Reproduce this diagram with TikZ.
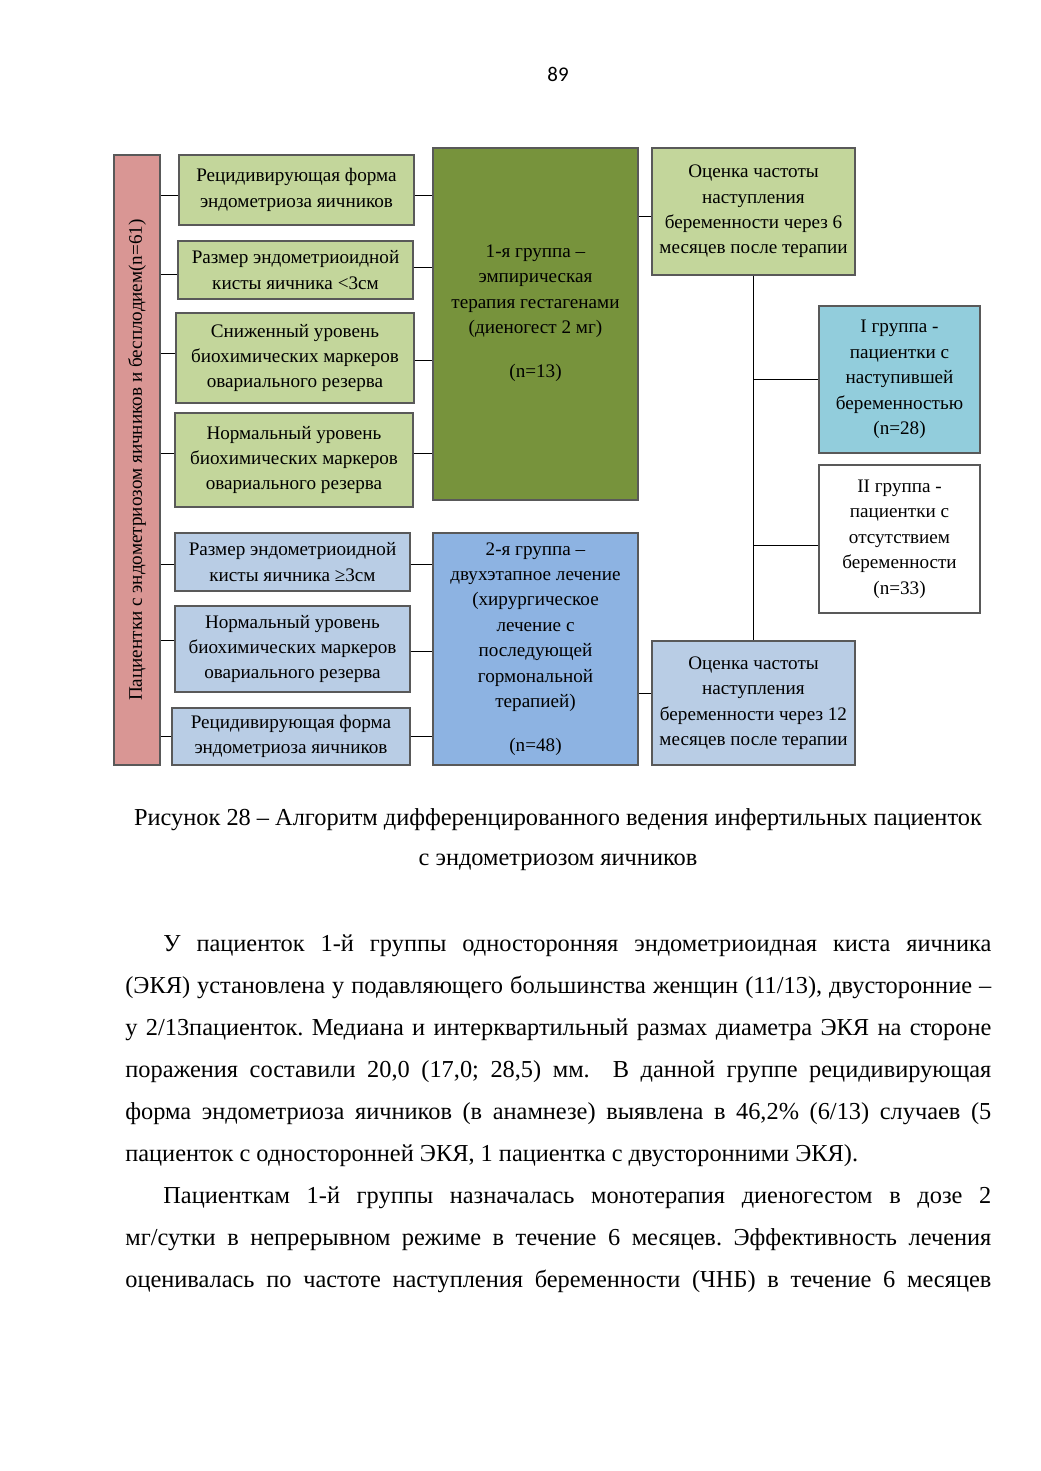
\documentclass[tikz,border=0pt]{standalone}
\usepackage{fontspec}
\setmainfont{Liberation Serif}
\newfontfamily\pagenumfont{Carlito}
\usetikzlibrary{calc}
\frenchspacing

\definecolor{pinkfill}{HTML}{D99694}
\definecolor{greenfill}{HTML}{C3D69B}
\definecolor{olivefill}{HTML}{77933C}
\definecolor{bluefill}{HTML}{B9CDE5}
\definecolor{midbluefill}{HTML}{8DB3E2}
\definecolor{cyanfill}{HTML}{92CDDC}

\tikzset{
  box/.style={draw=black!65, line width=0.7pt, align=center, inner sep=0pt,
    font=\fontsize{11}{14.6}\selectfont},
  sz/.style 2 args={minimum width=#1*0.20192mm, minimum height=#2*0.20192mm},
  link/.style={line width=0.6pt},
  bodytext/.style={font=\fontsize{14}{24.15}\selectfont}
}

\begin{document}
\begin{tikzpicture}[x=0.20192mm, y=-0.20192mm]
    \useasboundingbox (0,0) rectangle (1040,1471);

    \node[font=\pagenumfont\fontsize{12}{14}\selectfont] (pagenum) at (558,74) {89};

    \node[box, sz={610}{46}, fill=pinkfill, rotate=90] (pk) at (137,460)
        {Пациентки с эндометриозом яичников и бесплодием(n=61)};

    \node[box, sz={235}{70}, fill=greenfill] (g1) at (296.5,190) {Рецидивирующая форма\\эндометриоза яичников};
    \node[box, sz={235}{58}, fill=greenfill] (g2) at (295.5,270) {Размер эндометриоидной\\кисты яичника <3см};
    \node[box, sz={238}{90}, fill=greenfill] (g3) at (295,358) {Сниженный уровень\\биохимических маркеров\\овариального резерва};
    \node[box, sz={238}{94}, fill=greenfill] (g4) at (294,460) {Нормальный уровень\\биохимических маркеров\\овариального резерва};

    \node[box, sz={235}{58}, fill=bluefill] (b1) at (292.5,562) {Размер эндометриоидной\\кисты яичника ≥3см};
    \node[box, sz={235}{86}, fill=bluefill] (b2) at (292.5,649) {Нормальный уровень\\биохимических маркеров\\овариального резерва};
    \node[box, sz={238}{57}, fill=bluefill] (b3) at (291,736.5) {Рецидивирующая форма\\эндометриоза яичников};

    \node[box, sz={205}{352}, fill=olivefill] (dg) at (535.5,324)
        {1-я группа –\\эмпирическая\\терапия гестагенами\\(диеногест 2 мг)\\[10.7pt](n=13)\\\mbox{}};
    \node[box, sz={205}{232}, fill=midbluefill] (bb) at (535.5,649)
        {2-я группа –\\двухэтапное лечение\\(хирургическое\\лечение с\\последующей\\гормональной\\терапией)\\[10.7pt](n=48)};

    \node[box, sz={203}{127}, fill=greenfill] (rg) at (753.5,211.5)
        {Оценка частоты\\наступления\\беременности через 6\\месяцев после терапии};
    \node[box, sz={203}{124}, fill=bluefill] (rb) at (753.5,703)
        {Оценка частоты\\наступления\\беременности через 12\\месяцев после терапии};

    \node[box, sz={161}{147}, fill=cyanfill] (cy) at (899.5,379.5)
        {I группа -\\пациентки с\\наступившей\\беременностью\\(n=28)};
    \node[box, sz={161}{148}, fill=white] (wh) at (899.5,539)
        {II группа -\\пациентки с\\отсутствием\\беременности\\(n=33)};

    \draw[link] ([yshift=-1.2mm]g1.west) -- ([yshift=-1.2mm]g1.west -| pk.south);
    \draw[link] ([yshift=-1mm]g2.west) -- ([yshift=-1mm]g2.west -| pk.south);
    \draw[link] ([yshift=1mm]g3.west) -- ([yshift=1mm]g3.west -| pk.south);
    \draw[link] ([yshift=1.4mm]g4.west) -- ([yshift=1.4mm]g4.west -| pk.south);
    \draw[link] ([yshift=-0.6mm]b1.west) -- ([yshift=-0.6mm]b1.west -| pk.south);
    \draw[link] ([yshift=1.8mm]b2.west) -- ([yshift=1.8mm]b2.west -| pk.south);
    \draw[link] (b3.west) -- (b3.west -| pk.south);

    \draw[link] ([yshift=-1.2mm]g1.east) -- ([yshift=-1.2mm]g1.east -| dg.west);
    \draw[link] ([yshift=0.6mm]g2.east) -- ([yshift=0.6mm]g2.east -| dg.west);
    \draw[link] ([yshift=-0.6mm]g3.east) -- ([yshift=-0.6mm]g3.east -| dg.west);
    \draw[link] ([yshift=1.4mm]g4.east) -- ([yshift=1.4mm]g4.east -| dg.west);
    \draw[link] ([yshift=-0.6mm]b1.east) -- ([yshift=-0.6mm]b1.east -| bb.west);
    \draw[link] ([yshift=-0.6mm]b2.east) -- ([yshift=-0.6mm]b2.east -| bb.west);
    \draw[link] (b3.east) -- (b3.east -| bb.west);

    \draw[link] ([yshift=-1.1mm]rg.west) -- ([yshift=-1.1mm]rg.west -| dg.east);
    \draw[link] ([yshift=2mm]rb.west) -- ([yshift=2mm]rb.west -| bb.east);

    \draw[link] (rg.south) -- (rb.north);
    \draw[link] (cy.west) -- (cy.west -| rg.south);
    \draw[link] ([yshift=-1.4mm]wh.west) -- ([yshift=-1.4mm]wh.west -| rg.south);

    \node[bodytext] (cap1) at (558,820) {Рисунок 28 – Алгоритм дифференцированного ведения инфертильных пациенток};
    \node[bodytext] (cap2) at (558,862) {с эндометриозом яичников};

    \node[bodytext, anchor=base west, text width=866*0.20192mm, align=justify, inner sep=0pt] (body) at (125,951)
        {\setlength{\parindent}{7.67mm}\tolerance=9999\indent
        У пациенток 1-й группы односторонняя эндометриоидная киста яичника\linebreak
        (ЭКЯ) установлена у подавляющего большинства женщин (11/13), двусторонние –\linebreak
        у 2/13пациенток. Медиана и интерквартильный размах диаметра ЭКЯ на стороне\linebreak
        поражения составили 20,0 (17,0; 28,5) мм.\ \ В данной группе рецидивирующая\linebreak
        форма эндометриоза яичников (в анамнезе) выявлена в 46,2\% (6/13) случаев (5\linebreak
        пациенток с односторонней ЭКЯ, 1 пациентка с двусторонними ЭКЯ).\par
        \parfillskip=0pt
        Пациенткам 1-й группы назначалась монотерапия диеногестом в дозе 2\linebreak
        мг/сутки в непрерывном режиме в течение 6 месяцев. Эффективность лечения\linebreak
        оценивалась по частоте наступления беременности (ЧНБ) в течение 6 месяцев\par};
\end{tikzpicture}
\end{document}
